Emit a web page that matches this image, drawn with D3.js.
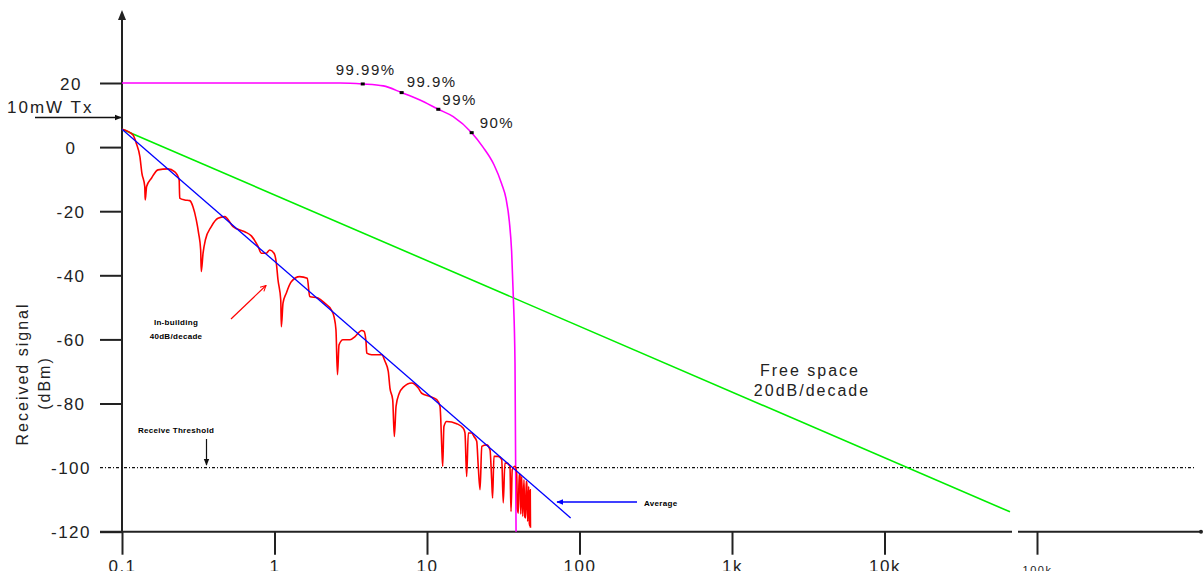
<!DOCTYPE html>
<html>
<head>
<meta charset="utf-8">
<script src="https://cdn.jsdelivr.net/npm/d3@7"></script>
<style>
body {margin: 0; background: #fff;}
svg {display: block;}
text {font-family: "Liberation Sans", Arial, sans-serif; fill: #222;}
.lbl {font-size: 16px; letter-spacing: 2px;}
.tick text {font-size: 17px; letter-spacing: 1.5px;}
.pct {font-size: 15px; letter-spacing: 1.5px;}
.tiny {font-size: 8px; font-weight: bold; fill: #000; letter-spacing: 0.3px;}
</style>
</head>
<body>
<svg width="1203" height="571"></svg>
<script>
//axis ticks
var yTicks = [20, 0, -20, -40, -60, -80, -100, -120];
var xTicks = [0.1, 1, 10, 100, 1000, 10000, 100000];
var xTickLabels = ["0.1", "1", "10", "100", "1k", "10k", "100k"];

//distance (m), received signal (dBm)
var freeSpace = [[0.1, 5.6], [66500, -113.8]];
var average = [[0.1, 5.6], [87.5, -115.7]];
var threshold = -100;

//coverage curve (magenta) and the marked percentages on it
var coverage = [[0.1, 20], [2.69, 20], [3.79, 19.7], [5.17, 19.1], [6.82, 17.0], [8.99, 14.7],
    [11.86, 11.8], [14.86, 9.5], [19.63, 4.5], [23.29, 0.0], [27.5, -5.5], [30.9, -11.5],
    [32.96, -16.0], [34.67, -23.2], [35.89, -32.6], [36.81, -46.6], [37.76, -67.3], [38.37, -120]];
var coveragePoints = [[3.79, 19.7], [6.82, 17.0], [11.86, 11.8], [19.63, 4.5]];
var coverageLabels = ["99.99%", "99.9%", "99%", "90%"];

//in-building signal with multipath nulls (red)
var inBuilding = [[0.1, 5.6], [0.118, 3.8], [0.124, 1.2], [0.131, -3.0], [0.135, -8.1], [0.141, -12.3],
    [0.142, -16.5], [0.145, -12.3], [0.156, -9.7], [0.172, -7.1], [0.2, -6.8], [0.222, -7.7],
    [0.237, -10.2], [0.239, -15.9], [0.258, -16.5], [0.278, -16.7], [0.292, -18.6], [0.307, -22.7],
    [0.318, -26.9], [0.328, -32.1], [0.331, -38.8], [0.34, -33.1], [0.352, -29.0], [0.385, -24.8],
    [0.426, -22.2], [0.471, -21.7], [0.535, -24.8], [0.638, -26.4], [0.705, -27.7], [0.78, -31.0],
    [0.819, -33.1], [0.883, -33.1], [0.931, -32.1], [0.993, -33.1], [1.028, -36.2], [1.054, -41.4],
    [1.099, -47.7], [1.109, -56.0], [1.137, -48.7], [1.194, -45.6], [1.288, -42.0], [1.462, -40.4],
    [1.64, -40.9], [1.702, -46.6], [1.928, -47.1], [2.133, -48.7], [2.356, -50.8], [2.455, -52.9],
    [2.529, -57.0], [2.588, -71.0], [2.649, -61.7], [2.812, -60.1], [3.126, -60.1], [3.373, -59.1],
    [3.733, -57.2], [3.864, -57.5], [3.981, -60.7], [4.027, -64.3], [4.335, -64.8], [5.047, -64.8],
    [5.309, -66.9], [5.572, -70.0], [5.715, -75.2], [5.957, -78.8], [6.106, -90.3], [6.266, -80.9],
    [6.577, -76.8], [6.998, -74.9], [7.943, -73.6], [8.77, -75.2], [9.23, -76.8], [10.47, -77.8],
    [11.58, -78.8], [12.17, -80.9], [12.3, -84.5], [12.48, -92.9], [12.67, -99.6], [12.91, -87.2],
    [13.45, -85.6], [15.66, -86.3], [17.3, -87.7], [17.74, -89.2], [18.2, -102.8], [18.66, -89.2],
    [19.63, -89.2], [20.32, -90.3], [21.18, -91.8], [21.68, -99.6], [22.28, -106.9], [22.86, -93.4],
    [24.62, -92.9], [25.88, -94.4], [26.55, -103.8], [26.92, -109.5], [27.48, -96.5], [29.31, -96.5],
    [30.9, -97.5], [31.62, -111.0], [32.43, -98.6], [33.34, -98.6], [34.99, -99.6], [35.56, -113.7],
    [36.22, -100.7], [37.76, -99.6], [38.73, -101.7], [39.2, -113.0], [39.72, -114.2], [40.2, -102.0],
    [40.74, -102.2], [41.2, -114.5], [41.78, -102.8], [42.46, -115.2], [43.25, -103.8], [43.8, -115.4],
    [44.36, -115.7], [44.7, -104.3], [45.08, -104.8], [45.71, -116.8], [46.45, -105.9], [46.9, -117.5],
    [47.32, -118.3], [47.53, -106.9], [47.7, -118.8]];


var svg = d3.select('svg');

var xScale = d3.scaleLog()
    .domain([0.1, 100000])
    .range([122, 1037]);
var yScale = d3.scaleLinear()
    .domain([-120, 20])
    .range([531.7, 83]);

var defs = svg.append('defs');
function addMarker(id, color, open) {
    var m = defs.append('marker')
        .attr('id', id)
        .attr('viewBox', '0 0 10 10')
        .attr('refX', 9).attr('refY', 5)
        .attr('markerWidth', 7).attr('markerHeight', 7)
        .attr('markerUnits', 'userSpaceOnUse')
        .attr('orient', 'auto');
    if (open) {
        m.append('path').attr('d', 'M1,1 L9,5 L1,9').attr('fill', 'none')
            .attr('stroke', color).attr('stroke-width', 1.5);
    } else {
        m.append('path').attr('d', 'M0,1 L10,5 L0,9 Z').attr('fill', color);
    }
}
addMarker('arrBlack', '#111', false);
addMarker('arrBlue', '#0000ff', false);
addMarker('arrRed', '#ff0000', true);

var line = d3.line()
    .x(function(d) { return xScale(d[0]); })
    .y(function(d) { return yScale(d[1]); });
var smoothLine = d3.line()
    .curve(d3.curveMonotoneX)
    .x(function(d) { return xScale(d[0]); })
    .y(function(d) { return yScale(d[1]); });

//y axis
var yAxis = d3.axisLeft(yScale)
    .tickValues(yTicks)
    .tickSize(22)
    .tickFormat(function(d) { return d; });
var yG = svg.append('g')
    .attr('transform', 'translate(122,0)')
    .call(yAxis);
yG.select('.domain').remove();
yG.selectAll('.tick line').attr('stroke', '#222').attr('stroke-width', 2);
yG.selectAll('.tick text').attr('x', -51).attr('text-anchor', 'middle').attr('dy', '0.36em');
yG.selectAll('.tick').filter(function(d) { return d == threshold; }).select('line').remove();

svg.append('line')
    .attr('x1', 122).attr('x2', 122)
    .attr('y1', 16).attr('y2', yScale(-120))
    .attr('stroke', '#222').attr('stroke-width', 2);
svg.append('path')
    .attr('d', 'M122,10 L118,20 L126,20 Z')
    .attr('fill', '#222');

//x axis
var xAxis = d3.axisBottom(xScale)
    .tickValues(xTicks)
    .tickSize(23)
    .tickPadding(5)
    .tickFormat(function(d, i) { return xTickLabels[i]; });
var xG = svg.append('g')
    .attr('transform', 'translate(0,' + yScale(-120) + ')')
    .call(xAxis);
xG.select('.domain').remove();
xG.selectAll('.tick line').attr('stroke', '#222').attr('stroke-width', 2);
xG.selectAll('.tick text').filter(function(d) { return d == 100000; })
    .style('font-size', '11px').attr('y', 35);

//axis line with a break between 10k and 100k
svg.append('line')
    .attr('x1', 100).attr('x2', 1012)
    .attr('y1', yScale(-120)).attr('y2', yScale(-120))
    .attr('stroke', '#222').attr('stroke-width', 2);
svg.append('line')
    .attr('x1', 1018).attr('x2', 1201)
    .attr('y1', yScale(-120)).attr('y2', yScale(-120))
    .attr('stroke', '#222').attr('stroke-width', 2);
svg.append('circle')
    .attr('cx', 1201).attr('cy', yScale(-120)).attr('r', 2)
    .attr('fill', '#222');

//receive threshold
svg.append('line')
    .attr('x1', 100).attr('x2', 1196)
    .attr('y1', yScale(threshold)).attr('y2', yScale(threshold))
    .attr('stroke', '#111').attr('stroke-width', 1.2)
    .attr('stroke-dasharray', '3,2,1,2');

//curves
svg.append('path').datum(freeSpace)
    .attr('d', line).attr('fill', 'none')
    .attr('stroke', '#00ee00').attr('stroke-width', 1.6);
svg.append('path').datum(coverage)
    .attr('d', smoothLine).attr('fill', 'none')
    .attr('stroke', '#ff00ff').attr('stroke-width', 1.6);
svg.append('path').datum(inBuilding)
    .attr('d', smoothLine).attr('fill', 'none')
    .attr('stroke', '#ff0000').attr('stroke-width', 1.6);
svg.append('path').datum(average)
    .attr('d', line).attr('fill', 'none')
    .attr('stroke', '#0000ff').attr('stroke-width', 1.3);

//percentage markers
svg.selectAll('.pdot').data(coveragePoints).enter()
    .append('rect')
    .attr('class', 'pdot')
    .attr('x', function(d) { return xScale(d[0]) - 2; })
    .attr('y', function(d) { return yScale(d[1]) - 1.5; })
    .attr('width', 4).attr('height', 3)
    .attr('fill', '#000');
var pctOffset = [[-27, -9], [5, -6], [4, -4], [8, -5]];
svg.selectAll('.pct').data(coveragePoints).enter()
    .append('text')
    .attr('class', 'pct')
    .attr('x', function(d, i) { return xScale(d[0]) + pctOffset[i][0]; })
    .attr('y', function(d, i) { return yScale(d[1]) + pctOffset[i][1]; })
    .text(function(d, i) { return coverageLabels[i]; });

//labels
svg.append('text').attr('class', 'lbl')
    .attr('x', 7).attr('y', 113)
    .style('font-size', '17px')
    .text('10mW Tx');
svg.append('line')
    .attr('x1', 35).attr('x2', 121)
    .attr('y1', 117.5).attr('y2', 117.5)
    .attr('stroke', '#111').attr('stroke-width', 1.5)
    .attr('marker-end', 'url(#arrBlack)');

svg.append('text').attr('class', 'lbl')
    .attr('transform', 'translate(28,374) rotate(-90)')
    .attr('text-anchor', 'middle')
    .text('Received signal');
svg.append('text').attr('class', 'lbl')
    .attr('transform', 'translate(50,383) rotate(-90)')
    .attr('text-anchor', 'middle')
    .text('(dBm)');

svg.append('text').attr('class', 'lbl')
    .attr('x', 810).attr('y', 376)
    .attr('text-anchor', 'middle')
    .text('Free space');
svg.append('text').attr('class', 'lbl')
    .attr('x', 812).attr('y', 396)
    .attr('text-anchor', 'middle')
    .text('20dB/decade');

svg.append('text').attr('class', 'tiny')
    .attr('x', 176).attr('y', 325)
    .attr('text-anchor', 'middle')
    .text('In-building');
svg.append('text').attr('class', 'tiny')
    .attr('x', 176).attr('y', 339)
    .attr('text-anchor', 'middle')
    .text('40dB/decade');
svg.append('line')
    .attr('x1', 231).attr('y1', 319)
    .attr('x2', 266).attr('y2', 285.5)
    .attr('stroke', '#ff0000').attr('stroke-width', 1.2)
    .attr('marker-end', 'url(#arrRed)');

svg.append('text').attr('class', 'tiny')
    .attr('x', 176).attr('y', 433)
    .attr('text-anchor', 'middle')
    .text('Receive Threshold');
svg.append('line')
    .attr('x1', 206.5).attr('y1', 439)
    .attr('x2', 206.5).attr('y2', 465)
    .attr('stroke', '#111').attr('stroke-width', 1.2)
    .attr('marker-end', 'url(#arrBlack)');

svg.append('text').attr('class', 'tiny')
    .attr('x', 644).attr('y', 506)
    .text('Average');
svg.append('line')
    .attr('x1', 637).attr('y1', 502)
    .attr('x2', 557).attr('y2', 502)
    .attr('stroke', '#0000ff').attr('stroke-width', 1.3)
    .attr('marker-end', 'url(#arrBlue)');
</script>
</body>
</html>
